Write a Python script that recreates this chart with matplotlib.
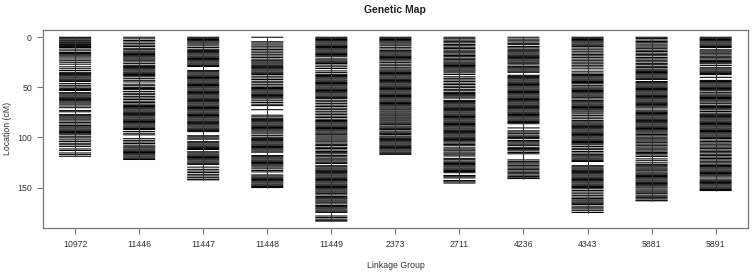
import matplotlib
matplotlib.use("Agg")
import matplotlib.pyplot as plt

plt.rcParams['font.family'] = ['Liberation Sans', 'DejaVu Sans']
plt.rcParams['font.stretch'] = 'normal'

# linkage group names (x axis)
groups = ["10972", "11446", "11447", "11448", "11449", "2373",
          "2711", "4236", "4343", "5881", "5891"]

# marker positions (cM), one list per group
lg_10972 = [0, 0.9, 1.8, 3.0, 3.9, 5.1, 6.0, 7.2, 8.1, 9.3, 10.2, 11.8, 13.5,
            15.2, 16.3, 17.5, 18.6, 19.8, 21.7, 23.4, 25.0, 26.9, 29.5, 31.4, 33.2,
            35.0, 36.1, 37.3, 38.4, 39.6, 40.7, 41.9, 43.0, 44.2, 46.3, 48.0, 49.6,
            51.0, 52.2, 53.1, 55.3, 56.4, 57.6, 58.7, 59.9, 61.0, 62.2, 63.3, 64.5,
            65.6, 66.8, 68.6, 70.3, 73.2, 74.4, 77.2, 78.3, 79.5, 80.6, 81.8, 83.5,
            85.0, 86.6, 88.1, 89.4, 90.5, 91.7, 92.8, 94.0, 95.1, 96.3, 97.4, 99.3,
            100.5, 102.4, 104.0, 105.8, 107.3, 108.9, 111.5, 113.0, 115.5, 117.1, 118.8]
lg_11446 = [0, 1.6, 3.3, 4.7, 6.4, 7.9, 9.2, 11.0, 12.4, 13.8, 14.9, 16.1, 17.2,
            18.4, 19.5, 20.7, 21.8, 23.0, 24.6, 26.3, 28.0, 29.1, 30.3, 31.4, 32.6,
            33.7, 34.9, 36.0, 37.2, 38.3, 39.5, 41.3, 43.0, 44.6, 46.9, 48.4, 50.0,
            51.1, 52.3, 54.2, 55.9, 57.3, 59.0, 60.6, 62.1, 63.8, 65.2, 66.7, 68.0,
            69.1, 70.3, 71.4, 72.6, 73.7, 74.9, 76.0, 77.2, 78.3, 79.5, 80.6, 81.8,
            82.9, 84.1, 85.2, 86.4, 87.5, 88.7, 89.8, 91.0, 92.1, 94.0, 95.8, 97.4,
            101.2, 102.9, 104.5, 106.0, 107.7, 109.3, 110.4, 111.6, 112.7, 113.9,
            115.0, 116.2, 117.3, 118.5, 119.6, 120.8, 122.0]
lg_11447 = [0, 1.1, 2.3, 3.4, 4.6, 5.7, 6.9, 8.6, 10.3, 12.0, 13.1, 14.3, 15.4,
            16.6, 17.7, 18.9, 20.0, 21.2, 22.3, 23.5, 24.6, 25.8, 26.9, 28.1, 29.2,
            33.3, 34.4, 35.6, 36.7, 37.9, 39.0, 40.2, 41.3, 42.5, 43.6, 44.8, 45.9,
            47.1, 48.2, 49.4, 50.5, 51.7, 52.8, 54.0, 55.1, 56.3, 57.4, 58.6, 59.7,
            60.9, 62.0, 63.2, 64.3, 65.5, 66.6, 67.8, 68.9, 70.1, 71.2, 72.4, 73.5,
            74.7, 75.8, 77.0, 78.1, 79.3, 80.4, 81.6, 82.7, 83.9, 85.0, 86.2, 87.3,
            88.5, 89.6, 90.8, 91.9, 93.1, 94.2, 98.3, 99.4, 100.6, 101.7, 104.2,
            105.3, 106.5, 107.6, 108.8, 109.9, 111.1, 112.0, 114.3, 115.4, 116.6,
            117.7, 118.9, 120.0, 121.2, 122.3, 123.5, 124.6, 125.8, 126.9, 129.6,
            131.8, 133.5, 135.0, 136.8, 138.4, 140.1, 141.7, 142.3]
lg_11448 = [0, 4.5, 5.8, 7.6, 9.0, 10.7, 12.3, 13.8, 15.5, 17.0, 18.7, 20.2, 21.9,
            23.4, 24.6, 25.7, 26.8, 28.0, 29.1, 30.3, 31.4, 32.6, 33.7, 34.9, 36.0,
            37.2, 38.9, 40.6, 42.2, 43.9, 45.4, 47.0, 48.7, 50.1, 51.2, 52.4, 53.5,
            54.7, 55.8, 57.0, 58.1, 59.3, 60.4, 61.6, 63.4, 65.1, 66.8, 68.2, 72.3,
            77.8, 79.4, 80.9, 82.0, 83.2, 84.3, 85.5, 86.6, 87.8, 88.9, 90.1, 91.2,
            92.4, 93.5, 94.7, 96.4, 98.2, 99.8, 100.9, 102.1, 103.2, 104.4, 105.5,
            106.7, 107.8, 109.0, 110.1, 111.3, 112.4, 113.6, 114.7, 118.1, 119.2,
            120.4, 121.5, 122.7, 123.8, 125.0, 126.1, 127.3, 128.4, 129.6, 131.3,
            133.0, 134.4, 137.4, 138.5, 139.7, 140.8, 142.0, 143.1, 144.3, 145.4,
            146.6, 147.7, 148.9, 150.0]
lg_11449 = [0, 1.1, 2.3, 3.4, 4.6, 5.7, 6.9, 8.0, 9.2, 10.3, 11.5, 12.6, 13.8,
            14.9, 16.1, 17.2, 18.4, 19.5, 21.6, 22.7, 23.9, 25.0, 26.2, 27.8, 29.5,
            31.2, 33.6, 35.3, 37.0, 38.2, 39.3, 40.5, 41.6, 42.8, 43.9, 45.1, 46.2,
            47.4, 48.5, 49.7, 50.8, 52.0, 53.1, 54.3, 55.4, 56.6, 57.7, 58.9, 60.0,
            61.2, 62.9, 64.4, 66.0, 67.7, 69.1, 70.8, 72.3, 73.9, 75.6, 77.0, 78.7,
            80.1, 81.8, 83.1, 84.2, 85.4, 86.5, 87.7, 88.8, 90.0, 91.1, 92.3, 93.4,
            94.6, 95.8, 97.2, 98.5, 99.7, 101.4, 102.6, 103.8, 105.5, 106.9, 108.1,
            109.8, 111.0, 112.5, 114.0, 115.2, 116.4, 118.1, 119.3, 120.7, 122.3,
            123.5, 124.8, 126.0, 128.2, 129.3, 130.5, 131.6, 132.8, 133.9, 135.1,
            136.2, 137.4, 138.5, 139.7, 140.8, 142.0, 143.1, 144.3, 145.4, 146.6,
            147.7, 148.9, 150.0, 151.2, 152.3, 153.5, 154.6, 155.8, 157.3, 158.9,
            160.1, 161.2, 162.4, 163.5, 164.7, 166.3, 167.9, 169.0, 170.2, 171.3,
            172.5, 173.6, 174.8, 178.4, 179.9, 181.5, 182.6, 183.5]
lg_2373 = [0, 1.1, 2.3, 3.4, 4.6, 5.7, 6.9, 8.5, 10.1, 11.7, 13.3, 14.5, 15.6,
           16.8, 17.9, 19.1, 20.2, 21.4, 22.5, 23.7, 25.3, 26.9, 28.4, 30.0, 31.6,
           32.8, 33.9, 35.1, 36.2, 37.4, 38.5, 39.7, 40.8, 42.0, 43.1, 44.3, 45.4,
           46.6, 47.7, 48.9, 50.0, 51.2, 52.3, 53.5, 54.6, 55.8, 56.9, 58.1, 59.2,
           60.4, 61.5, 62.7, 63.8, 65.0, 66.1, 67.3, 68.4, 69.6, 70.7, 71.9, 73.5,
           74.6, 75.8, 77.4, 78.5, 79.7, 80.8, 82.4, 83.5, 84.7, 85.8, 87.0, 88.6,
           89.7, 90.9, 92.0, 93.6, 94.7, 95.9, 97.0, 98.6, 99.7, 100.9, 102.0,
           103.2, 104.3, 105.5, 106.6, 107.8, 108.9, 110.1, 111.2, 112.4, 113.5,
           114.7, 115.8, 116.9]
lg_2711 = [0, 1.5, 2.9, 4.4, 5.6, 7.2, 8.5, 10.0, 11.3, 12.8, 14.0, 15.5, 16.8,
           18.2, 19.4, 20.9, 22.1, 23.6, 24.8, 25.9, 27.0, 28.2, 29.3, 30.5, 31.6,
           32.8, 33.9, 35.5, 37.1, 39.5, 41.0, 42.6, 44.1, 45.8, 47.2, 48.9, 50.3,
           52.0, 53.4, 55.0, 56.1, 57.3, 58.4, 59.6, 60.7, 63.0, 64.1, 65.3, 66.4,
           67.6, 68.7, 69.9, 71.0, 72.2, 73.3, 74.5, 75.6, 76.8, 77.9, 79.1, 80.2,
           81.4, 82.5, 83.7, 84.8, 86.0, 87.1, 88.3, 89.4, 90.6, 91.7, 92.9, 94.0,
           95.2, 96.3, 97.5, 98.6, 99.8, 100.9, 102.1, 103.2, 104.4, 105.7, 107.1,
           108.3, 110.4, 111.6, 112.8, 114.5, 115.7, 117.3, 118.5, 120.9, 122.2,
           123.6, 124.8, 126.0, 127.1, 128.3, 129.4, 130.6, 131.7, 132.9, 134.0,
           135.2, 138.0, 139.2, 140.4, 143.0, 144.3, 145.5]
lg_4236 = [0, 1.8, 3.0, 4.7, 6.1, 7.4, 9.3, 10.6, 12.0, 13.4, 14.5, 15.7, 16.8,
           18.0, 19.1, 20.3, 21.4, 22.6, 23.7, 24.9, 26.0, 27.6, 29.3, 30.4, 31.6,
           32.7, 33.9, 35.0, 38.0, 39.1, 40.3, 41.4, 42.6, 43.7, 44.9, 46.0, 47.2,
           48.3, 49.5, 50.6, 51.8, 52.9, 54.1, 55.2, 56.4, 57.5, 58.7, 59.8, 61.0,
           62.1, 63.3, 64.4, 65.6, 66.7, 67.9, 69.0, 70.2, 71.3, 72.5, 73.6, 74.8,
           75.9, 77.1, 78.2, 79.4, 80.5, 81.7, 82.8, 84.0, 85.1, 86.3, 90.5, 93.4,
           94.6, 95.9, 97.6, 98.8, 100.0, 101.2, 103.1, 104.3, 105.5, 106.7, 107.9,
           109.8, 111.0, 112.2, 113.4, 115.0, 116.3, 122.4, 123.9, 125.3, 126.5,
           127.9, 129.4, 130.7, 132.1, 133.5, 134.8, 136.2, 137.6, 138.9, 140.3, 141.0]
lg_4343 = [0, 1.1, 2.3, 3.4, 4.6, 5.7, 6.9, 8.0, 9.2, 10.8, 12.5, 14.0, 15.7,
           17.3, 18.6, 20.1, 21.8, 23.4, 24.9, 26.5, 28.0, 29.6, 31.5, 33.9, 35.7,
           37.2, 38.3, 39.5, 40.6, 41.8, 42.9, 44.1, 45.2, 46.4, 48.0, 49.6, 50.8,
           51.9, 53.1, 54.2, 55.4, 56.5, 57.7, 58.8, 60.0, 61.6, 63.2, 64.4, 65.5,
           66.7, 67.8, 69.0, 70.1, 71.3, 72.4, 73.6, 74.7, 76.4, 78.0, 79.7, 81.3,
           83.0, 84.4, 85.6, 86.7, 87.9, 89.0, 90.2, 91.3, 92.5, 93.6, 94.8, 95.9,
           97.1, 98.2, 99.4, 100.5, 101.7, 102.8, 104.0, 105.1, 106.3, 107.4, 109.1,
           110.8, 112.2, 114.0, 115.5, 117.1, 118.3, 119.4, 120.6, 121.7, 122.9,
           124.0, 128.2, 129.3, 130.5, 131.6, 132.8, 133.9, 135.1, 136.2, 137.4,
           138.5, 139.7, 140.8, 142.0, 143.1, 144.3, 145.4, 146.6, 147.7, 148.9,
           150.0, 151.2, 152.9, 154.5, 156.2, 157.8, 159.5, 161.0, 162.3, 163.4,
           164.6, 165.7, 166.9, 168.6, 170.2, 171.4, 173.1, 174.9]
lg_5881 = [0, 1.2, 2.8, 4.3, 5.5, 6.9, 8.6, 9.9, 11.4, 12.9, 14.2, 15.8, 17.1,
           18.5, 20.2, 21.6, 23.0, 24.5, 26.1, 27.4, 29.0, 30.3, 31.8, 32.9, 34.1,
           35.2, 36.4, 37.5, 38.7, 39.8, 41.0, 42.1, 44.2, 45.3, 46.5, 47.6, 48.8,
           49.9, 51.1, 52.2, 53.4, 54.5, 55.7, 56.8, 58.0, 59.1, 60.3, 61.4, 62.6,
           63.7, 64.9, 66.0, 67.2, 68.3, 69.5, 70.6, 72.7, 73.8, 75.0, 76.1, 77.3,
           78.4, 79.6, 80.7, 81.9, 83.0, 84.2, 85.3, 86.5, 87.6, 88.8, 89.9, 91.1,
           92.2, 93.4, 94.5, 95.7, 97.1, 98.4, 99.8, 101.3, 102.5, 103.7, 105.2,
           106.6, 107.9, 109.5, 110.7, 112.3, 113.6, 115.0, 116.2, 117.5, 119.0,
           121.4, 123.2, 125.3, 126.9, 128.2, 129.3, 130.5, 131.6, 132.8, 134.4,
           135.6, 136.7, 137.9, 139.0, 140.2, 141.3, 142.5, 143.6, 144.8, 145.9,
           147.1, 148.2, 149.4, 150.5, 152.3, 153.5, 154.6, 155.8, 157.5, 158.6,
           159.8, 161.2, 162.6, 163.2]
lg_5891 = [0, 1.1, 2.3, 3.4, 4.6, 5.7, 6.9, 8.0, 9.2, 10.3, 12.5, 13.7, 14.8,
           16.0, 17.6, 19.0, 20.4, 21.7, 23.1, 24.2, 25.4, 26.5, 28.3, 30.4, 31.6,
           32.7, 33.9, 35.0, 36.2, 37.3, 40.0, 43.1, 44.2, 45.4, 46.5, 47.7, 48.8,
           50.0, 51.1, 52.3, 53.4, 55.0, 56.6, 57.8, 58.9, 60.1, 61.2, 62.4, 63.5,
           64.7, 66.3, 67.9, 69.1, 70.2, 71.4, 72.5, 74.1, 75.7, 76.9, 78.0, 79.2,
           80.3, 81.5, 82.6, 83.8, 84.9, 86.1, 87.2, 88.4, 89.5, 90.7, 91.8, 93.0,
           94.1, 95.3, 96.4, 97.6, 98.7, 99.9, 101.0, 102.6, 104.1, 105.5, 106.8,
           108.4, 109.7, 111.1, 112.6, 113.9, 115.3, 116.8, 118.1, 119.6, 121.0,
           122.4, 123.8, 125.3, 126.7, 128.0, 129.1, 130.3, 131.4, 132.6, 133.7,
           134.9, 136.0, 137.2, 138.3, 139.5, 141.5, 142.7, 143.8, 145.0, 146.1,
           147.3, 148.4, 149.6, 150.7, 151.9, 153.0]

markers = [lg_10972, lg_11446, lg_11447, lg_11448, lg_11449, lg_2373,
           lg_2711, lg_4236, lg_4343, lg_5881, lg_5891]

fig = plt.figure(figsize=(7.56, 2.72), dpi=100)
ax = fig.add_axes([0.057, 0.162, 0.932, 0.728])

for i, pos in enumerate(markers):
    x = i + 1
    ax.hlines(pos, x - 0.25, x + 0.25, color="black", lw=0.75, snap=False)
    ax.vlines(x, min(pos), max(pos), color="#333333", lw=0.8)

ax.set_xlim(0.5, 11.5)
ax.set_ylim(190.3, -7.3)
ax.set_xticks(range(1, len(groups) + 1))
ax.set_xticklabels(groups)
ax.set_yticks([0, 50, 100, 150])

for s in ax.spines.values():
    s.set_color("#777777")
    s.set_linewidth(0.9)
ax.tick_params(colors="#777777", labelcolor="#333333", labelsize=6.3, length=4, width=0.8)
ax.tick_params(axis="x", pad=5)
ax.tick_params(axis="y", pad=4)

ax.set_title("Genetic Map", fontsize=7.5, fontweight="bold", color="#222222", pad=12)
ax.set_xlabel("Linkage Group", fontsize=6.3, color="#333333", labelpad=8)
ax.set_ylabel("Location (cM)", fontsize=6.3, color="#333333", labelpad=4)

fig.savefig("out.png", dpi=100)
